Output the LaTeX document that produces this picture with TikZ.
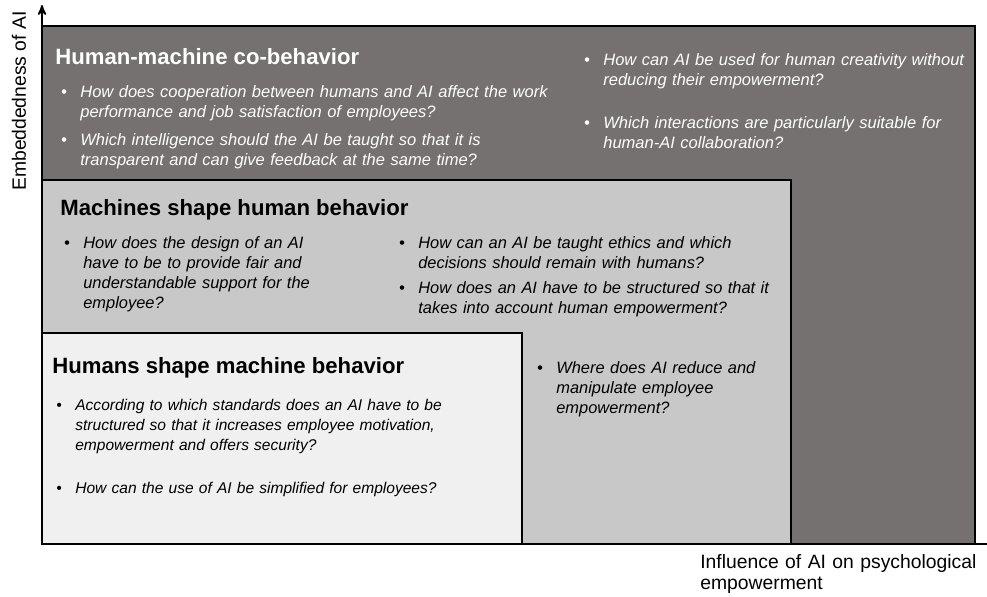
\documentclass[tikz,border=0pt]{standalone}
\usepackage{fontspec}
\setmainfont{Liberation Sans}
\usepackage{tikz}
\usetikzlibrary{arrows,positioning,calc}

\definecolor{darkbox}{HTML}{757170}
\definecolor{midbox}{HTML}{C8C8C8}
\definecolor{lightbox}{HTML}{F0F0F0}

\newcommand{\titlefont}{\fontsize{12.6}{15}\selectfont\bfseries}
\newcommand{\qbullet}{\llap{\textbullet\hspace{0.27cm}}}

\begin{document}
\begin{tikzpicture}[x=0.02cm,y=-0.02cm,>=stealth',
  area/.style={draw=black,line width=0.9pt},
  title/.style={anchor=base west,inner sep=0pt,font=\titlefont},
  question/.style={anchor=base west,inner sep=0pt,text width=12cm,align=left,
    font=\fontsize{#1}{11.4}\selectfont\itshape},
  question/.default=9.35,
  axis label/.style={inner sep=0pt,font=\fontsize{11}{12.5}\selectfont}]

  \useasboundingbox (0,0) rectangle (987,596);

  \fill[darkbox] (42,26) rectangle (975,544);
  \draw[area] (42,26) rectangle (975,544);
  \fill[midbox] (42,180) rectangle (791,544);
  \draw[area] (42,180) rectangle (791,544);
  \fill[lightbox] (42,333) rectangle (522,544);
  \draw[area] (42,333) rectangle (522,544);

  \coordinate (origin) at (42,544);
  \coordinate (ytip) at (42,5);
  \coordinate (xend) at (987,544);
  \draw[->,line width=1pt] (origin) -- (ytip);
  \draw[line width=1pt] (origin) -- (xend);

  \node[axis label,rotate=90,anchor=base] (ylab) at (26,101) {Embeddedness of AI};
  \node[axis label,anchor=base west,text width=6cm,align=left] (xlab) at (700,568) {Influence of AI on psychological\\empowerment};

  \node[title,white] (cobehavior) at (55,64) {Human-machine co-behavior};
  \node[question=9.4,white] (q1a) at (80,97) {\qbullet How does cooperation between humans and AI affect the work\\performance and job satisfaction of employees?};
  \node[question=9.4,white] (q1b) at (80,145) {\qbullet Which intelligence should the AI be taught so that it is\\transparent and can give feedback at the same time?};
  \node[question=9.4,white] (q1c) at (603,65) {\qbullet How can AI be used for human creativity without\\reducing their empowerment?};
  \node[question=9.4,white] (q1d) at (603,128) {\qbullet Which interactions are particularly suitable for\\human-AI collaboration?};

  \node[title] (machshape) at (60,215) {Machines shape human behavior};
  \node[question] (q2a) at (83,248) {\qbullet How does the design of an AI\\have to be to provide fair and\\understandable support for the\\employee?};
  \node[question] (q2b) at (418,248) {\qbullet How can an AI be taught ethics and which\\decisions should remain with humans?};
  \node[question] (q2c) at (418,293) {\qbullet How does an AI have to be structured so that it\\takes into account human empowerment?};
  \node[question] (q2d) at (556,373) {\qbullet Where does AI reduce and\\manipulate employee\\empowerment?};

  \node[title] (humshape) at (52,373) {Humans shape machine behavior};
  \node[question=8.85] (q3a) at (75,410) {\qbullet According to which standards does an AI have to be\\structured so that it increases employee motivation,\\empowerment and offers security?};
  \node[question=8.85] (q3b) at (75,493) {\qbullet How can the use of AI be simplified for employees?};
\end{tikzpicture}
\end{document}
